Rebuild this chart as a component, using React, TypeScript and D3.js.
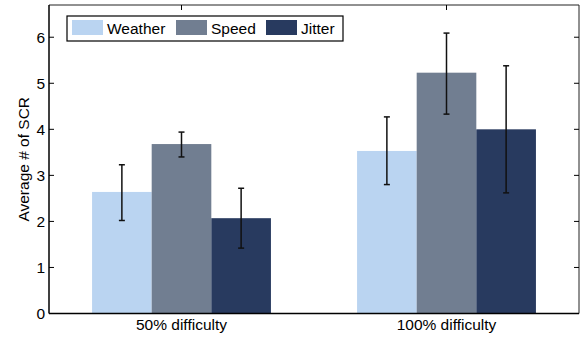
import React, { useRef, useEffect } from 'react';
import * as d3 from 'd3';

const categories = ['50% difficulty', '100% difficulty'];
const seriesNames = ['Weather', 'Speed', 'Jitter'];
const seriesColors = ['#bad4f1', '#717e91', '#283a5f'];

// mean values, one array per series (same order as categories)
const weather = [2.64, 3.53];
const speed = [3.68, 5.23];
const jitter = [2.07, 4.0];

// error bar ends
const weatherLow = [2.02, 2.8];
const weatherHigh = [3.23, 4.27];
const speedLow = [3.4, 4.33];
const speedHigh = [3.94, 6.09];
const jitterLow = [1.42, 2.62];
const jitterHigh = [2.72, 5.38];

const yTicks = [0, 1, 2, 3, 4, 5, 6];

const App: React.FC = () => {
  const svgRef = useRef<SVGSVGElement | null>(null);

  const width = 584;
  const height = 337;
  const marginLeft = 49;
  const marginRight = 5;
  const marginTop = 5;
  const marginBottom = 23.5;
  const fontSize = 15.5;

  useEffect(() => {
    if (!svgRef.current) return;
    const svg = d3.select(svgRef.current);
    svg.selectAll('*').remove();

    const values = [weather, speed, jitter];
    const lows = [weatherLow, speedLow, jitterLow];
    const highs = [weatherHigh, speedHigh, jitterHigh];

    // x in "MATLAB" units: groups at 1 and 2
    const x = d3.scaleLinear()
      .domain([0.5, 2.5])
      .range([marginLeft, width - marginRight]);

    const y = d3.scaleLinear()
      .domain([0, 6.7])
      .range([height - marginBottom, marginTop]);

    const groupWidth = 0.675;
    const barWidth = groupWidth / seriesNames.length;

    // bars
    seriesNames.forEach((name, s) => {
      categories.forEach((cat, i) => {
        const x0 = (i + 1) - groupWidth / 2 + s * barWidth;
        svg.append('rect')
          .attr('x', x(x0))
          .attr('width', x(x0 + barWidth) - x(x0))
          .attr('y', y(values[s][i]))
          .attr('height', y(0) - y(values[s][i]))
          .attr('fill', seriesColors[s]);
      });
    });

    // error bars
    seriesNames.forEach((name, s) => {
      categories.forEach((cat, i) => {
        const cx = x((i + 1) - groupWidth / 2 + (s + 0.5) * barWidth);
        const g = svg.append('g')
          .attr('stroke', '#111')
          .attr('stroke-width', 1.5);
        g.append('line')
          .attr('x1', cx).attr('x2', cx)
          .attr('y1', y(lows[s][i])).attr('y2', y(highs[s][i]));
        [lows[s][i], highs[s][i]].forEach(v => {
          g.append('line')
            .attr('x1', cx - 3).attr('x2', cx + 3)
            .attr('y1', y(v)).attr('y2', y(v));
        });
      });
    });

    // frame
    const left = marginLeft;
    const right = width - marginRight;
    const top = marginTop;
    const bottom = height - marginBottom;
    svg.append('line').attr('x1', left).attr('x2', right).attr('y1', top).attr('y2', top)
      .attr('stroke', '#222').attr('stroke-width', 1);
    svg.append('line').attr('x1', right).attr('x2', right).attr('y1', top).attr('y2', bottom)
      .attr('stroke', '#222').attr('stroke-width', 1);
    svg.append('line').attr('x1', left).attr('x2', left).attr('y1', top).attr('y2', bottom)
      .attr('stroke', '#000').attr('stroke-width', 1.5);
    svg.append('line').attr('x1', left).attr('x2', right).attr('y1', bottom).attr('y2', bottom)
      .attr('stroke', '#000').attr('stroke-width', 1.5);

    // y ticks + labels
    yTicks.forEach(t => {
      svg.append('line')
        .attr('x1', left).attr('x2', left + 5)
        .attr('y1', y(t)).attr('y2', y(t))
        .attr('stroke', '#000');
      svg.append('line')
        .attr('x1', right - 5).attr('x2', right)
        .attr('y1', y(t)).attr('y2', y(t))
        .attr('stroke', '#000');
      svg.append('text')
        .attr('x', left - 4)
        .attr('y', y(t))
        .attr('dy', '0.35em')
        .attr('text-anchor', 'end')
        .attr('font-size', fontSize)
        .attr('fill', '#000')
        .text(String(t));
    });

    // x ticks (top) + labels
    categories.forEach((cat, i) => {
      svg.append('line')
        .attr('x1', x(i + 1)).attr('x2', x(i + 1))
        .attr('y1', top).attr('y2', top + 5)
        .attr('stroke', '#000');
      svg.append('text')
        .attr('x', x(i + 1))
        .attr('y', bottom + 16)
        .attr('text-anchor', 'middle')
        .attr('font-size', fontSize)
        .attr('fill', '#000')
        .text(cat);
    });

    // y axis title
    svg.append('text')
      .attr('transform', `translate(24,${(top + bottom) / 2}) rotate(-90)`)
      .attr('dy', '0.35em')
      .attr('text-anchor', 'middle')
      .attr('font-size', fontSize)
      .attr('fill', '#000')
      .text('Average # of SCR');

    // legend
    const legend = svg.append('g').attr('transform', 'translate(67,16)');
    legend.append('rect')
      .attr('x', 0).attr('y', 0)
      .attr('width', 276).attr('height', 25)
      .attr('fill', '#fff')
      .attr('stroke', '#000')
      .attr('stroke-width', 1.2);
    const itemX = [5, 109, 199];
    seriesNames.forEach((name, s) => {
      legend.append('rect')
        .attr('x', itemX[s]).attr('y', 4)
        .attr('width', 31).attr('height', 15)
        .attr('fill', seriesColors[s]);
      legend.append('text')
        .attr('x', itemX[s] + 35)
        .attr('y', 12.5)
        .attr('dy', '0.35em')
        .attr('font-size', fontSize)
        .attr('fill', '#000')
        .text(name);
    });
  }, []);

  return (
    <svg
      ref={svgRef}
      width={width}
      height={height}
      style={{ position: 'absolute', left: 0, top: 0, fontFamily: 'Arial, "Liberation Sans", sans-serif' }}
    />
  );
};

export default App;
